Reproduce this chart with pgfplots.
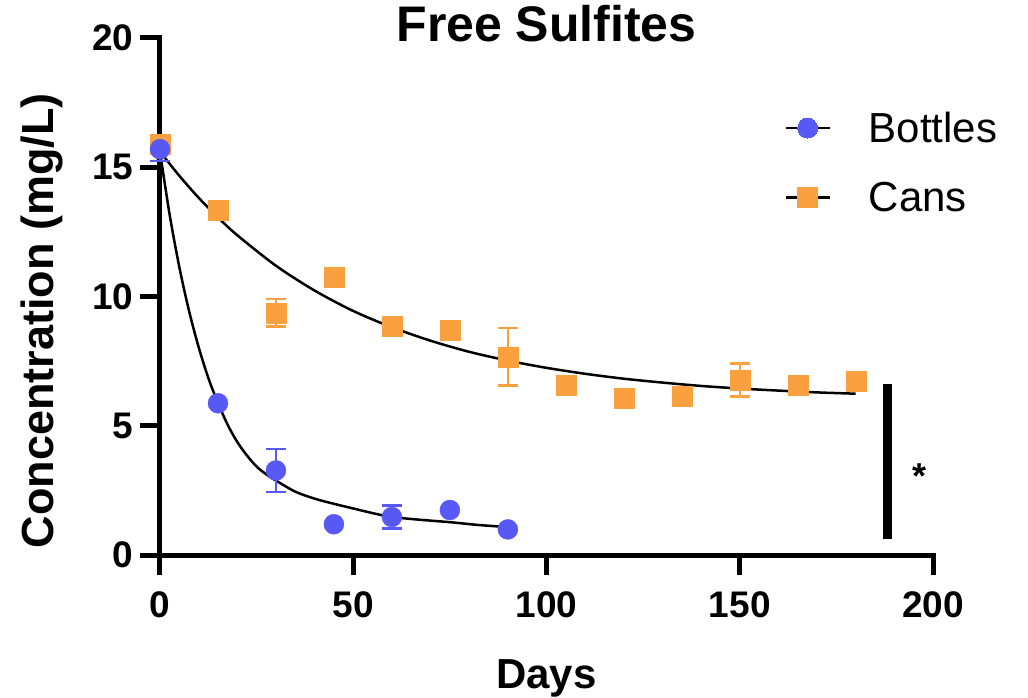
\documentclass[border=0pt]{standalone}
\usepackage{fontspec}
\setmainfont{Liberation Sans}
\usepackage{pgfplots}
\pgfplotsset{compat=1.18}
\definecolor{bblue}{RGB}{88,88,245}
\definecolor{corange}{RGB}{250,160,62}

\begin{document}
\begin{tikzpicture}
\path[use as bounding box] (-160pt,-143pt) rectangle (868pt,555pt);
\begin{axis}[
  at={(0,0)}, anchor=south west,
  scale only axis, width=773pt, height=517pt,
  xmin=0, xmax=200, ymin=0, ymax=20,
  axis lines=left,
  axis line style={-, line width=5pt, line cap=rect},
  xtick={0,50,100,150,200}, ytick={0,5,10,15,20},
  minor tick num=0,
  tick align=outside, major tick length=20pt,
  tick style={line width=5pt, black},
  /pgf/number format/assume math mode=true,
  tick label style={font=\bfseries\fontsize{37}{44}\selectfont},
  xticklabel style={yshift=-13pt},
  yticklabel style={xshift=-3pt},
  title={Free Sulfites},
  title style={font=\bfseries\fontsize{50}{58}\selectfont, at={(axis description cs:0.5,1)}, anchor=base, yshift=-10pt},
  xlabel={Days},
  xlabel style={font=\bfseries\fontsize{42}{50}\selectfont, at={(axis description cs:0.5,0)}, anchor=base, yshift=-133pt},
  ylabel={Concentration (mg/L)},
  ylabel style={font=\bfseries\fontsize{45}{52}\selectfont, at={(axis description cs:-0.153,0.453)}, anchor=center, rotate=0},
  clip=false,
  legend style={at={(axis cs:161.5,17.22)}, anchor=north west, draw=none, fill=none,
    font=\fontsize{42}{50}\selectfont, row sep=34pt, inner sep=0pt,
    /tikz/every odd column/.append style={column sep=36pt}},
  legend cell align=left,
  legend image code/.code={\draw[#1, mark repeat=2, mark phase=2] plot coordinates {(0pt,0pt) (22pt,0pt) (44pt,0pt)};},
]
\addlegendimage{black, line width=2.5pt, mark=*, mark size=10pt, mark options={draw=bblue, fill=bblue, line width=0pt}}
\addlegendentry{Bottles}
\addlegendimage{black, line width=2.5pt, mark=square*, mark size=10pt, mark options={draw=corange, fill=corange, line width=0pt}}
\addlegendentry{Cans}

% fitted decay curves
\addplot[black, line width=2.5pt, smooth, no markers, forget plot] coordinates {
  (0,15.6) (2.5,13.16) (5,11.14) (7.5,9.45) (10,8.04) (12.5,6.85) (15,5.88)
  (17.5,5.04) (20,4.37) (22.5,3.85) (25,3.42) (27.5,3.12) (30,2.88) (35,2.45)
  (40,2.18) (45,1.98) (50,1.8) (55,1.62) (60,1.47) (67.5,1.36) (75,1.27)
  (82.5,1.16) (90,1.08)
};
\addplot[black, line width=2.5pt, smooth, no markers, forget plot] coordinates {
  (0,15.6) (5,14.67) (10,13.82) (15,13.06) (20,12.37) (30,11.19) (40,10.23)
  (50,9.44) (60,8.81) (70,8.29) (80,7.86) (90,7.52) (100,7.24) (110,7.01)
  (120,6.82) (130,6.67) (140,6.54) (150,6.44) (160,6.36) (170,6.29) (180,6.24)
};

% cans
\addplot[only marks, mark=square*, mark size=10pt, color=corange, forget plot,
  error bars/.cd, y dir=both, y explicit,
  error bar style={line width=2.5pt, color=corange},
  error mark options={rotate=90, mark size=10pt, line width=2.5pt, color=corange}]
  coordinates {
  (0,15.9) +- (0,0.3)
  (15,13.35) +- (0,0)
  (30,9.37) +- (0,0.53)
  (45,10.74) +- (0,0)
  (60,8.87) +- (0,0)
  (75,8.7) +- (0,0)
  (90,7.67) +- (0,1.11)
  (105,6.55) +- (0,0)
  (120,6.07) +- (0,0)
  (135,6.15) +- (0,0)
  (150,6.77) +- (0,0.63)
  (165,6.58) +- (0,0)
  (180,6.72) +- (0,0)
};

% bottles
\addplot[only marks, mark=*, mark size=10pt, color=bblue, forget plot,
  error bars/.cd, y dir=both, y explicit,
  error bar style={line width=2.5pt, color=bblue},
  error mark options={rotate=90, mark size=10pt, line width=2.5pt, color=bblue}]
  coordinates {
  (0,15.7) +- (0,0.45)
  (15,5.87) +- (0,0)
  (30,3.27) +- (0,0.84)
  (45,1.19) +- (0,0)
  (60,1.47) +- (0,0.44)
  (75,1.74) +- (0,0)
  (90,0.99) +- (0,0)
};

% significance bar
\draw[line width=9pt] (axis cs:188.1,0.6) -- (axis cs:188.1,6.6);
\node[font=\bfseries\fontsize{36}{42}\selectfont, inner sep=0pt, yshift=-10pt] at (axis cs:196.6,3.44) {*};
\end{axis}
\end{tikzpicture}
\end{document}
